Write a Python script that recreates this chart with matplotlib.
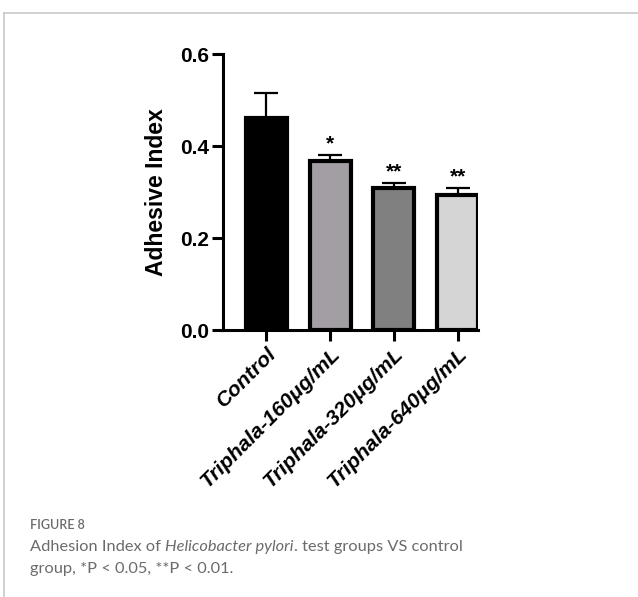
import numpy as np
import matplotlib
matplotlib.use('Agg')  # no display
import matplotlib.pyplot as plt
from matplotlib.lines import Line2D

# data
groups = ["Control", "Triphala-160μg/mL", "Triphala-320μg/mL", "Triphala-640μg/mL"]
means = [0.461, 0.368, 0.309, 0.293]
errors = [0.055, 0.012, 0.011, 0.016]
stars = ["", "*", "**", "**"]
bar_colors = ["#000000", "#a39ea4", "#808080", "#d5d5d5"]
y_ticks = [0.0, 0.2, 0.4, 0.6]

fig = plt.figure(figsize=(6.38, 5.97), dpi=100)
fig.patch.set_facecolor('white')

# frame lines (top and left) of the figure panel
frame_color = '#c8c8c8'
fig.add_artist(Line2D([4 / 638, 1], [1 - 13 / 597, 1 - 13 / 597], color=frame_color, lw=1.2))
fig.add_artist(Line2D([4 / 638, 4 / 638], [0, 1 - 13 / 597], color=frame_color, lw=1.2))

ax = fig.add_axes([223 / 638, 267 / 597, 255 / 638, 276 / 597])
x = np.arange(len(groups))

ax.bar(x, means, width=0.64, color=bar_colors, edgecolor='black', linewidth=3, zorder=2)
ax.errorbar(x, means, yerr=[np.zeros(len(errors)), errors], fmt='none', ecolor='black',
            elinewidth=1.6, capsize=8.5, capthick=1.6, zorder=1)

for xi, m, e, s in zip(x, means, errors, stars):
    if s:
        ax.annotate(s, (xi, m + e), xytext=(0, 1), textcoords='offset points',
                    ha='center', va='bottom', fontsize=15, fontweight='bold',
                    family='Liberation Sans')

ax.set_xlim(-0.68, 3.32)
ax.set_ylim(0, 0.6)
ax.set_yticks(y_ticks)
ax.set_yticklabels([f"{t:.1f}" for t in y_ticks], fontsize=15, fontweight='bold',
                   family='Liberation Sans')
ax.set_xticks(x)
ax.set_xticklabels(groups, rotation=45, ha='right', va='top', rotation_mode='anchor',
                   fontsize=15.3, fontweight='bold', fontstyle='italic', family='Liberation Sans')

for side in ['top', 'right']:
    ax.spines[side].set_visible(False)
for side in ['left', 'bottom']:
    ax.spines[side].set_linewidth(2.2)
ax.tick_params(axis='both', width=2.2, length=8, pad=2)

ax.set_ylabel("Adhesive Index", fontsize=16.5, fontweight='bold', family='Liberation Sans')
ax.yaxis.set_label_coords(-0.215, 0.5)

# caption
cap_color = '#6b6b6b'
fig.text(30 / 638, 1 - 529 / 597, "FIGURE 8", fontsize=9, color=cap_color,
         family='Lato', fontweight='semibold', va='baseline')

renderer = fig.canvas.get_renderer()
x0 = 30 / 638
yb = 1 - 551 / 597
parts = [("Adhesion Index of ", 'normal'), ("Helicobacter pylori", 'italic'),
         (". test groups VS control", 'normal')]
for txt, style in parts:
    t = fig.text(x0, yb, txt, fontsize=11.8, color=cap_color, family='Lato',
                 fontstyle=style, va='baseline')
    bb = t.get_window_extent(renderer=renderer)
    x0 += bb.width / fig.bbox.width
fig.text(30 / 638, 1 - 573 / 597, "group, *P < 0.05, **P < 0.01.", fontsize=11.8,
         color=cap_color, family='Lato', va='baseline')

plt.savefig('out.png', dpi=100)
plt.close()
